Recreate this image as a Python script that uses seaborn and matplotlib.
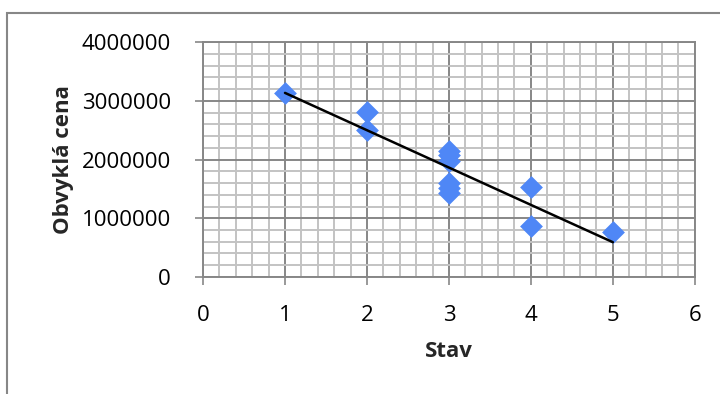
import matplotlib
matplotlib.use("Agg")
import numpy as np
import pandas as pd
import matplotlib.pyplot as plt
from matplotlib.patches import Rectangle
from matplotlib.ticker import MultipleLocator
import seaborn as sns

# values
stav = [1, 2, 2, 3, 3, 3, 3, 3, 3, 4, 4, 5]
cena = [3130000, 2810000, 2500000, 2150000, 2080000, 1980000,
        1600000, 1520000, 1430000, 1540000, 860000, 770000]

x_ticks = [0, 1, 2, 3, 4, 5, 6]
y_ticks = [0, 1000000, 2000000, 3000000, 4000000]

df = pd.DataFrame({"Stav": stav, "Obvyklá cena": cena})

sns.set_style("white")
plt.rcParams["font.family"] = ["Open Sans", "DejaVu Sans"]

grey = "#878787"

fig = plt.figure(figsize=(7.2, 3.94), dpi=100)
ax = fig.add_axes([0.282, 0.297, 0.683, 0.596])

# scatter + least squares trend line (like the Excel linear trendline)
sns.regplot(data=df, x="Stav", y="Obvyklá cena", ci=None, marker="D", ax=ax,
            scatter_kws=dict(s=135, color="#4f87f6", linewidths=0, alpha=1, zorder=3),
            line_kws=dict(color="black", lw=1.8, zorder=4))

ax.set_xlim(0, 6)
ax.set_ylim(0, 4000000)
ax.set_xticks(x_ticks)
ax.set_yticks(y_ticks)
ax.set_yticklabels([str(v) for v in y_ticks])

# dense Excel-style grid
ax.set_axisbelow(True)
ax.xaxis.set_minor_locator(MultipleLocator(0.2))
ax.yaxis.set_minor_locator(MultipleLocator(200000))
ax.grid(which="minor", color="#c3c3c3", lw=1.4)
ax.grid(which="major", color=grey, lw=1.4)

ax.tick_params(which="minor", length=0)
ax.tick_params(which="major", bottom=True, left=True, direction="out", length=6,
               width=1.2, color=grey, labelsize=16, labelcolor="black")
ax.tick_params(axis="x", pad=14)
ax.tick_params(axis="y", pad=17)

for sp in ax.spines.values():
    sp.set_color(grey)
    sp.set_linewidth(1.4)

ax.set_xlabel("Stav", fontsize=16, fontweight="bold", labelpad=11)
ax.set_ylabel("Obvyklá cena", fontsize=16, fontweight="bold", labelpad=6)

# outer chart frame (cut off at right and bottom in the reference)
fig.add_artist(Rectangle((7 / 720, -0.1), 1.5, 1.1 - 13 / 394, transform=fig.transFigure,
                         fill=False, edgecolor=grey, lw=1.5))

fig.savefig("out.png", dpi=100)
